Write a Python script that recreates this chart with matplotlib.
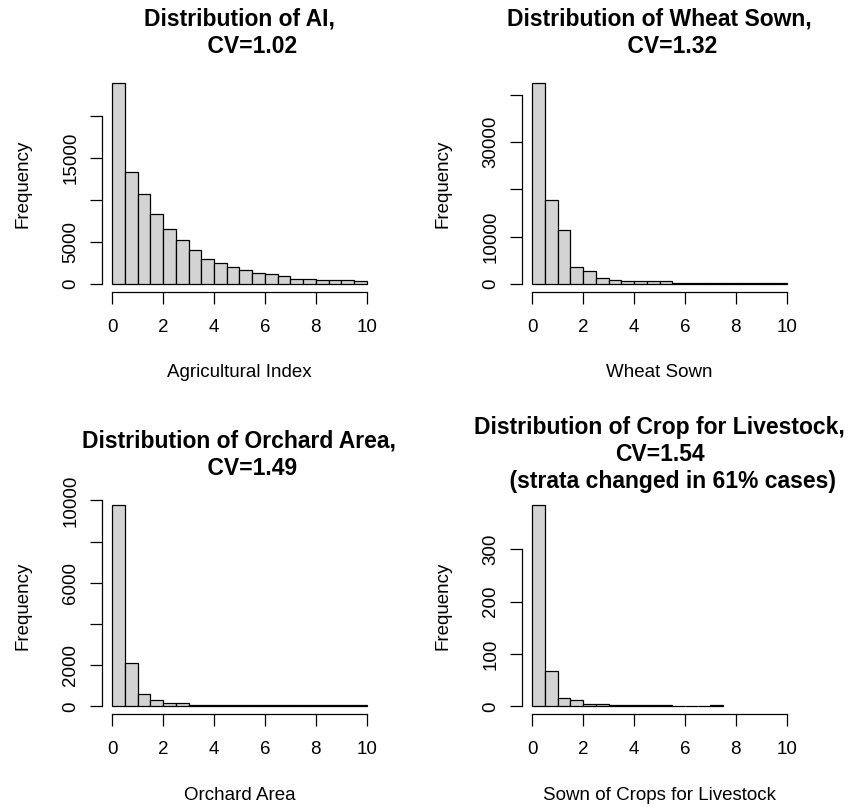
import numpy as np
import matplotlib
matplotlib.use("Agg")
import matplotlib.pyplot as plt

plt.rcParams['font.family'] = ['Liberation Sans', 'DejaVu Sans']

# ---- data (histogram counts per 0.5-wide bin) ----
bin_width = 0.5
ai_counts = [23850, 13330, 10680, 8330, 6470, 5160, 3970, 2980, 2500, 1980,
             1630, 1310, 1150, 950, 600, 600, 440, 440, 440, 320]
wheat_counts = [42470, 17810, 11300, 3500, 2600, 1150, 820, 520, 520, 520,
                520, 150, 150, 150, 150, 150, 150, 150, 150, 150]
orchard_counts = [9760, 2100, 615, 330, 140, 140, 45, 45, 45, 45,
                  45, 45, 45, 45, 45, 45, 45, 45, 45, 45]
livestock_counts = [384, 67, 16, 13, 5, 4, 2, 2, 2, 2,
                    2, 0, 0, 0, 3]

titles = ["Distribution of AI,\n    CV=1.02",
          "Distribution of Wheat Sown,\n    CV=1.32",
          "Distribution of Orchard Area,\n    CV=1.49",
          "Distribution of Crop for Livestock,\nCV=1.54\n    (strata changed in 61% cases)"]
xlabels = ["Agricultural Index", "Wheat Sown", "Orchard Area",
           "Sown of Crops for Livestock"]
yticks = [[0, 5000, 10000, 15000, 20000],
          [0, 10000, 20000, 30000, 40000],
          [0, 2000, 4000, 6000, 8000, 10000],
          [0, 100, 200, 300]]
yticklabels = [["0", "5000", "", "15000", ""],
               ["0", "10000", "", "30000", ""],
               ["0", "2000", "", "6000", "", "10000"],
               ["0", "100", "200", "300"]]
xticks = [0, 2, 4, 6, 8, 10]
all_counts = [ai_counts, wheat_counts, orchard_counts, livestock_counts]

W, H = 849, 807
fig = plt.figure(figsize=(W / 100, H / 100), dpi=100)

positions = [
    (102.1, 291.7, 274.8, 216.4),
    (522.1, 291.7, 274.8, 216.4),
    (102.1, 714.4, 274.8, 217.1),
    (522.1, 714.4, 274.8, 217.1),
]

for i in range(4):
    l, b, w, h = positions[i]
    ax = fig.add_axes([l / W, 1 - b / H, w / W, h / H])
    counts = all_counts[i]
    edges = np.arange(len(counts)) * bin_width
    ax.bar(edges, counts, width=bin_width, align='edge', color='#D3D3D3',
           edgecolor='black', linewidth=0.9)
    ymax = max(counts)
    ax.set_xlim(-0.4, 10.4)
    ax.set_ylim(-0.04 * ymax, 1.04 * ymax)
    for s in ['top', 'right']:
        ax.spines[s].set_visible(False)
    ax.spines['left'].set_bounds(0, yticks[i][-1])
    ax.spines['bottom'].set_bounds(0, 10)
    for s in ['left', 'bottom']:
        ax.spines[s].set_linewidth(0.9)
    ax.set_xticks(xticks)
    ax.set_xticklabels([str(t) for t in xticks])
    ax.set_yticks(yticks[i])
    ax.set_yticklabels(yticklabels[i], rotation=90, va='center')
    ax.tick_params(axis='both', length=8.4, width=0.9, labelsize=13.5,
                   direction='out')
    ax.tick_params(axis='x', pad=11)
    ax.tick_params(axis='y', pad=8)
    ax.set_xlabel(xlabels[i], fontsize=13.5)
    ax.xaxis.set_label_coords(0.5, -81.0 / h)
    ax.xaxis.label.set_va('center')
    ax.set_ylabel("Frequency", fontsize=13.5)
    ax.yaxis.set_label_coords(-79.4 / w, 0.5)
    ax.yaxis.label.set_va('center')
    ax.annotate(titles[i], xy=(0.5, 1), xycoords='axes fraction',
                xytext=(0, 42.6 * 0.72), textcoords='offset points',
                ha='center', va='center', fontsize=16.5, fontweight='bold',
                linespacing=1.22, multialignment='center')

fig.savefig("out.png", dpi=100)
